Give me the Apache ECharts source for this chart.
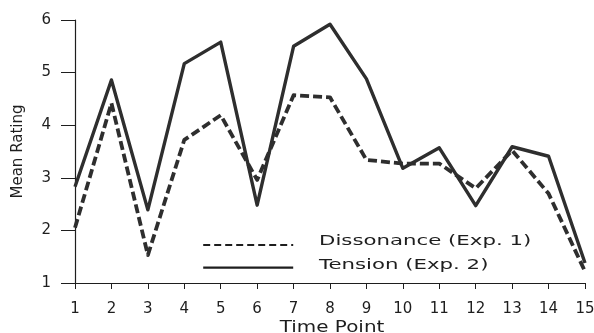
<!DOCTYPE html>
<html>
<head>
<meta charset="utf-8">
<script src="https://cdn.jsdelivr.net/npm/echarts@6/dist/echarts.min.js"></script>
<style>html,body{margin:0;padding:0;background:#fff}#c{width:594px;height:333px}</style>
</head>
<body>
<div id="c"></div>
<script>
var timePoints = [1,2,3,4,5,6,7,8,9,10,11,12,13,14,15];
var dissonance = [2.05,4.42,1.53,3.72,4.19,2.96,4.57,4.53,3.34,3.27,3.27,2.8,3.52,2.7,1.22];
var tension    = [2.83,4.86,2.39,5.17,5.58,2.48,5.5,5.92,4.88,3.18,3.57,2.47,3.59,3.41,1.38];
var seriesNames = ['Dissonance (Exp. 1)','Tension (Exp. 2)'];
var xTitle = 'Time Point';
var yTitle = 'Mean Rating';

function pairs(vals){ return timePoints.map(function(t,i){ return [t, vals[i]]; }); }

var font = 'DejaVu Sans, Liberation Sans, Arial, sans-serif';
var ink = '#1e1e1e';
var chart = echarts.init(document.getElementById('c'), null, {renderer:'canvas'});
chart.setOption({
  animation:false,
  backgroundColor:'#fff',
  grid:{left:75, right:9, top:20, bottom:50, containLabel:false, outerBoundsMode:'none'},
  legend:{
    orient:'vertical', left:197, top:233, itemWidth:90, itemHeight:14, itemGap:10,
    formatter:function(){ return ''; },
    textStyle:{fontSize:1},
    data:[
      {name:seriesNames[0], itemStyle:{opacity:0}, lineStyle:{width:2.2, type:[7,4], color:ink}},
      {name:seriesNames[1], itemStyle:{opacity:0}, lineStyle:{width:2.4, type:'solid', color:ink}}
    ]
  },
  graphic:[
    {type:'text', left:319, top:234, scaleX:1.52, style:{text:seriesNames[0], font:'14px '+font, fill:ink}},
    {type:'text', left:319, top:258, scaleX:1.52, style:{text:seriesNames[1], font:'14px '+font, fill:ink}},
    {type:'text', x:332, y:321, scaleX:1.33, style:{text:xTitle, font:'15px '+font, fill:ink, align:'center', verticalAlign:'top'}}
  ],
  xAxis:{
    type:'value', min:1, max:15, interval:1,
    axisLine:{show:true, onZero:false, lineStyle:{color:ink, width:1.2}},
    axisTick:{show:true, length:6, lineStyle:{color:ink}},
    axisLabel:{fontFamily:font, fontSize:15, color:ink, margin:19},
    splitLine:{show:false}
  },
  yAxis:{
    type:'value', min:1, max:6, interval:1,
    name:yTitle, nameLocation:'middle', nameGap:49,
    nameTextStyle:{fontFamily:font, fontSize:15, color:ink},
    axisLine:{show:true, lineStyle:{color:ink, width:1.2}},
    axisTick:{show:true, length:14, lineStyle:{color:ink}},
    axisLabel:{fontFamily:font, fontSize:15, color:ink, margin:24},
    splitLine:{show:false}
  },
  series:[
    {name:seriesNames[0], type:'line', data:pairs(dissonance), symbol:'none',
     itemStyle:{color:'#2e2e2e'},
     lineStyle:{width:3.8, type:[9,4], color:'#2e2e2e', join:'round'}, z:3},
    {name:seriesNames[1], type:'line', data:pairs(tension), symbol:'none',
     itemStyle:{color:'#2e2e2e'},
     lineStyle:{width:3.4, type:'solid', color:'#2e2e2e', join:'round'}, z:2}
  ]
});
</script>
</body>
</html>
